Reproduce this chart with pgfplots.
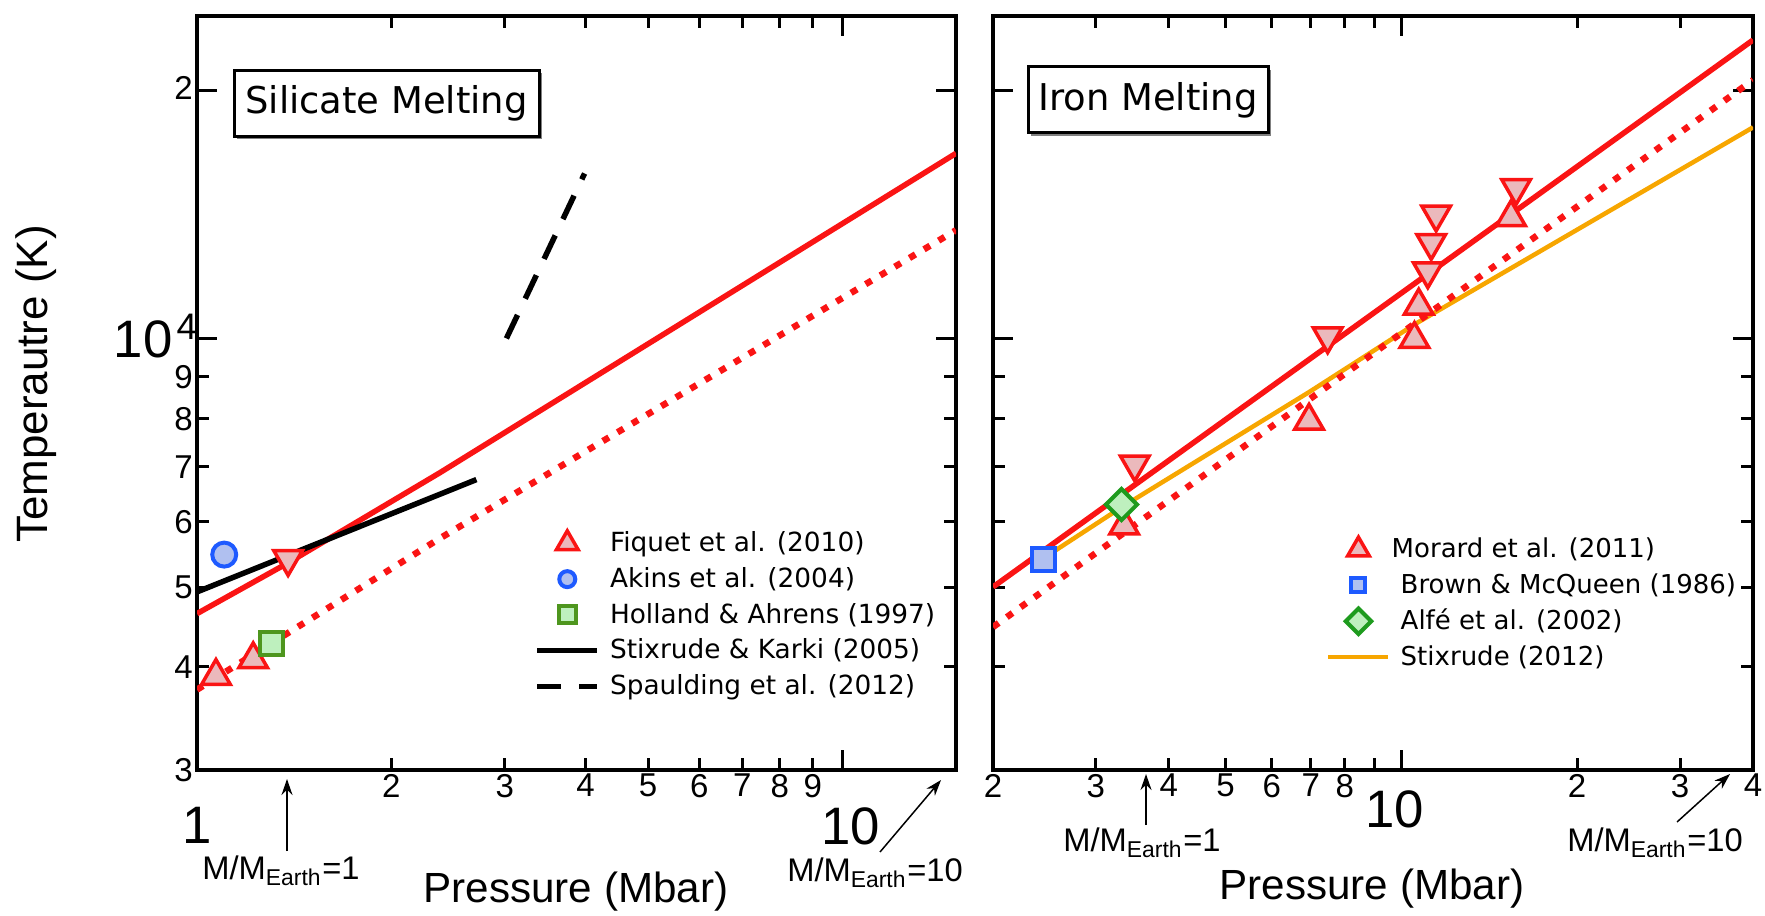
\documentclass[border=0pt]{standalone}
\usepackage{fontspec}
\setmainfont{Liberation Sans}
\newfontfamily\dejavu{DejaVu Sans}
\usepackage{pgfplots}
\pgfplotsset{compat=1.18}
\usetikzlibrary{arrows.meta}

\definecolor{lred}{RGB}{250,20,20}
\definecolor{lorange}{RGB}{247,166,0}
\definecolor{tfill}{RGB}{235,185,188}
\definecolor{bstroke}{RGB}{30,90,255}
\definecolor{bfill}{RGB}{176,192,240}
\definecolor{gstroke}{RGB}{78,150,30}
\definecolor{gfill}{RGB}{190,240,190}
\definecolor{gtwostroke}{RGB}{30,155,30}

\begin{document}
\begin{tikzpicture}
\useasboundingbox (0,0) rectangle (176.5mm,91.5mm);

% ---------------- Left panel: Silicate melting ----------------
\begin{axis}[at={(19.7mm,14.5mm)}, anchor=south west,
  scale only axis, width=75.9mm, height=75.4mm,
  xmode=log, ymode=log, xmin=1, xmax=15, ymin=3000, ymax=24650,
  axis line style={line width=0.35mm},
  tick style={line width=0.3mm, black},
  tick align=inside, xtick pos=both, ytick pos=both,
  xticklabel pos=lower, yticklabel pos=left,
  major tick length=1.2mm, minor tick length=0pt,
  /pgf/number format/assume math mode=true,
  tick label style={font=\fontsize{9.4}{10}\selectfont, inner sep=1pt},
  xtick={2,3,4,5,6,7,8,9}, xticklabels={2,3,4,5,6,7,8,9},
  extra x ticks={1,10}, extra x tick labels={1,\hspace*{1.6mm}10},
  extra x tick style={major tick length=2mm, xticklabel style={font=\fontsize{15}{16}\selectfont, yshift=-3.3mm}},
  ytick={3000,4000,5000,6000,7000,8000,9000}, yticklabels={3,4,5,6,7,8,9},
  extra y ticks={10000,20000}, extra y tick labels={{\fontsize{15}{16}\selectfont 10\hspace{0.4mm}\textsuperscript{4}\hspace*{-0.6mm}},2},
  extra y tick style={major tick length=2mm, yticklabel style={yshift=0.3mm}},
  legend style={draw=none, fill=none, inner sep=0pt, outer sep=0pt,
     font=\dejavu\fontsize{7.5}{8}\selectfont,
     nodes={inner sep=0pt, text height=2.6mm, text depth=0.98mm},
     /tikz/every odd column/.append style={column sep=1mm},
     at={(0.4447,0.2056)}, anchor=west},
  legend cell align=left,
]
\addplot[forget plot, lred, line width=0.55mm] coordinates {(1,4643)(1.384,5350)(2.377,6880)(15,16796)};
\addplot[forget plot, lred, line width=0.65mm, dash pattern=on 0.7mm off 1.0mm] coordinates {(1,3755)(2.377,5727)(15,13550)};
\addplot[forget plot, black, line width=0.55mm] coordinates {(1,4933)(2.71,6752)};
\addplot[forget plot, black, line width=0.55mm, dash pattern=on 2.6mm off 1.8mm] coordinates {(3.016,10014)(3.987,15876)};
\addplot[forget plot, only marks, mark=triangle*, mark size=1.65mm, mark options={draw=lred, fill=tfill, line width=0.35mm}] coordinates {(1.070,3900)(1.222,4085)};
\addplot[forget plot, only marks, mark=square*, mark size=1.15mm, mark options={draw=gstroke, fill=gfill, line width=0.4mm}] coordinates {(1.305,4277)};
\addplot[forget plot, only marks, mark=*, mark size=1.2mm, mark options={draw=bstroke, fill=bfill, line width=0.4mm}] coordinates {(1.102,5475)};
\addplot[forget plot, only marks, mark=triangle*, mark size=1.65mm, mark options={draw=lred, fill=tfill, line width=0.35mm, rotate=180}] coordinates {(1.384,5410)};

\addlegendimage{only marks, mark=triangle*, mark size=1.25mm, mark options={draw=lred, fill=tfill, line width=0.35mm}}
\addlegendentry{Fiquet et al. (2010)}
\addlegendimage{only marks, mark=*, mark size=0.8mm, mark options={draw=bstroke, fill=bfill, line width=0.4mm}}
\addlegendentry{Akins et al. (2004)}
\addlegendimage{only marks, mark=square*, mark size=0.85mm, mark options={draw=gstroke, fill=gfill, line width=0.4mm}}
\addlegendentry{Holland \& Ahrens (1997)}
\addlegendimage{black, line width=0.55mm}
\addlegendentry{Stixrude \& Karki (2005)}
\addlegendimage{black, line width=0.55mm, dash pattern=on 2.4mm off 1.8mm}
\addlegendentry{Spaulding et al. (2012)}

\node[fill=black!50, minimum width=30.5mm, minimum height=6.6mm, inner sep=0pt]
  at ([xshift=0.3mm,yshift=-0.3mm]rel axis cs:0.2497,0.884) {};
\node[draw, line width=0.3mm, fill=white, font=\dejavu\fontsize{10.5}{12}\selectfont,
  inner sep=0pt, minimum width=30.5mm, minimum height=6.6mm]
  at (rel axis cs:0.2497,0.884) {Silicate Melting};
\end{axis}

% ---------------- Right panel: Iron melting ----------------
\begin{axis}[at={(99.3mm,14.5mm)}, anchor=south west,
  scale only axis, width=76.0mm, height=75.4mm,
  xmode=log, ymode=log, xmin=2, xmax=40, ymin=3000, ymax=24650,
  axis line style={line width=0.35mm},
  tick style={line width=0.3mm, black},
  tick align=inside, xtick pos=both, ytick pos=both,
  xticklabel pos=lower, yticklabel pos=left,
  major tick length=1.2mm, minor tick length=0pt,
  /pgf/number format/assume math mode=true,
  tick label style={font=\fontsize{9.4}{10}\selectfont, inner sep=1pt},
  xtick={2,3,4,5,6,7,8,9,20,30,40}, xticklabels={2,3,4,5,6,7,8,,2,3,4},
  extra x ticks={10}, extra x tick labels={10},
  extra x tick style={major tick length=2mm, xticklabel style={font=\fontsize{15}{16}\selectfont, yshift=-1.6mm, xshift=-0.7mm}},
  ytick={3000,4000,5000,6000,7000,8000,9000}, yticklabels={},
  extra y ticks={10000,20000}, extra y tick labels={},
  extra y tick style={major tick length=2mm},
  legend style={draw=none, fill=none, inner sep=0pt, outer sep=0pt,
     font=\dejavu\fontsize{7.4}{8}\selectfont,
     nodes={inner sep=0pt, text height=2.6mm, text depth=0.98mm},
     /tikz/every odd column/.append style={column sep=1mm},
     at={(0.4384,0.221)}, anchor=west},
  legend cell align=left,
]
\addplot[forget plot, lorange, line width=0.45mm] coordinates {(2.44,5420)(3.32,6250)(6.96,8625)(10.6,10443)(40,18060)};
\addplot[forget plot, lred, line width=0.65mm, dash pattern=on 0.7mm off 1.0mm] coordinates {(2,4472)(40,20610)};
\addplot[forget plot, lred, line width=0.55mm] coordinates {(2,5002)(40,23050)};
\addplot[forget plot, only marks, mark=triangle*, mark size=1.65mm, mark options={draw=lred, fill=tfill, line width=0.35mm}] coordinates {(3.353,5935)(6.95,7955)(10.53,9995)(10.71,10970)(15.41,14045)};
\addplot[forget plot, only marks, mark=triangle*, mark size=1.65mm, mark options={draw=lred, fill=tfill, line width=0.35mm, rotate=180}] coordinates {(3.497,7044)(7.48,10078)(11.10,12085)(11.25,13079)(11.47,14160)(15.72,15250)};
\addplot[forget plot, only marks, mark=square*, mark size=1.15mm, mark options={draw=bstroke, fill=bfill, line width=0.4mm}] coordinates {(2.438,5400)};
\addplot[forget plot, only marks, mark=square*, mark size=1.1mm, mark options={draw=gtwostroke, fill=gfill, line width=0.4mm, rotate=45}] coordinates {(3.319,6297)};

\addlegendimage{only marks, mark=triangle*, mark size=1.25mm, mark options={draw=lred, fill=tfill, line width=0.35mm}}
\addlegendentry{\hspace*{-0.9mm}Morard et al. (2011)}
\addlegendimage{only marks, mark=square*, mark size=0.7mm, mark options={draw=bstroke, fill=bfill, line width=0.4mm}}
\addlegendentry{Brown \& McQueen (1986)}
\addlegendimage{only marks, mark=square*, mark size=0.9mm, mark options={draw=gtwostroke, fill=gfill, line width=0.4mm, rotate=45}}
\addlegendentry{Alfé et al. (2002)}
\addlegendimage{lorange, line width=0.45mm}
\addlegendentry{Stixrude (2012)}

\node[fill=black!50, minimum width=24mm, minimum height=6.6mm, inner sep=0pt]
  at ([xshift=0.3mm,yshift=-0.3mm]rel axis cs:0.204,0.8886) {};
\node[draw, line width=0.3mm, fill=white, font=\dejavu\fontsize{10.5}{12}\selectfont,
  inner sep=0pt, minimum width=24mm, minimum height=6.6mm]
  at (rel axis cs:0.204,0.8886) {Iron Melting};
\end{axis}

% ---------------- labels and annotations ----------------
\node[rotate=90, font=\fontsize{12.5}{14}\selectfont] at (3.6mm,53.1mm) {Temperautre (K)};
\node[font=\fontsize{12}{14}\selectfont] at (57.6mm,2.35mm) {Pressure (Mbar)};
\node[font=\fontsize{12}{14}\selectfont] at (137.2mm,2.6mm) {Pressure (Mbar)};

\node[font=\fontsize{9.3}{10}\selectfont] at (28.1mm,4.4mm) {M/M\textsubscript{Earth}=1};
\draw[-{Stealth[length=1.6mm,width=1.1mm]}, line width=0.15mm] (28.7mm,6.4mm) -- (28.7mm,13.6mm);
\node[font=\fontsize{9.3}{10}\selectfont] at (87.5mm,4.2mm) {M/M\textsubscript{Earth}=10};
\draw[-{Stealth[length=1.6mm,width=1.1mm]}, line width=0.15mm] (88.0mm,6.3mm) -- (94.1mm,13.5mm);
\node[font=\fontsize{9.3}{10}\selectfont] at (114.2mm,7.2mm) {M/M\textsubscript{Earth}=1};
\draw[-{Stealth[length=1.6mm,width=1.1mm]}, line width=0.15mm] (114.6mm,9.0mm) -- (114.6mm,14.1mm);
\node[font=\fontsize{9.3}{10}\selectfont] at (165.5mm,7.2mm) {M/M\textsubscript{Earth}=10};
\draw[-{Stealth[length=1.6mm,width=1.1mm]}, line width=0.15mm] (167.7mm,9.3mm) -- (173.0mm,14.1mm);
\end{tikzpicture}
\end{document}
